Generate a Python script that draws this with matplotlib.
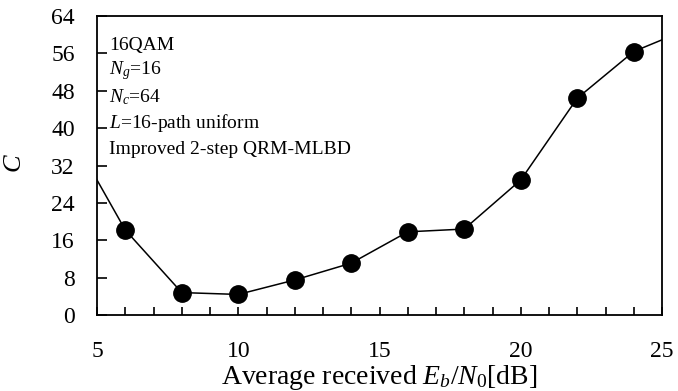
import matplotlib
matplotlib.use("Agg")
import matplotlib.pyplot as plt
from matplotlib.ticker import MultipleLocator

plt.rcParams['font.family'] = 'Liberation Serif'
plt.rcParams['mathtext.fontset'] = 'custom'
plt.rcParams['mathtext.rm'] = 'Liberation Serif'
plt.rcParams['mathtext.it'] = 'Liberation Serif:italic'

# datos (4 y 26 quedan fuera del eje, solo para el tramo de linea)
ebn0 = [4, 6, 8, 10, 12, 14, 16, 18, 20, 22, 24, 26]
c_vals = [39.6, 18.2, 4.8, 4.4, 7.5, 11.1, 17.8, 18.4, 28.9, 46.4, 56.4, 61.4]

notas = ["16QAM", r"$N_g$=16", r"$N_c$=64", r"$L$=16-path uniform",
         "Improved 2-step QRM-MLBD"]

fig = plt.figure(figsize=(6.78, 3.91), dpi=100)
ax = fig.add_axes([97/678, 1-315/391, (662-97)/678, (315-16)/391])

ax.plot(ebn0, c_vals, color='black', lw=1.1, marker='o', ms=12.5,
        markerfacecolor='black', clip_on=True)

ax.set_xlim(5, 25)
ax.set_ylim(0, 64)
ax.xaxis.set_major_locator(MultipleLocator(5))
ax.xaxis.set_minor_locator(MultipleLocator(1))
ax.yaxis.set_major_locator(MultipleLocator(8))
ax.tick_params(axis='x', which='both', direction='in', length=6, width=1.2,
               pad=19, labelsize=17)
ax.tick_params(axis='y', direction='in', length=7, width=1.2, pad=16,
               labelsize=17)
ax.tick_params(top=False, right=False)
for s in ax.spines.values():
    s.set_linewidth(1.3)

ax.set_xlabel(r"Average received $E_b$/$N_0$[dB]", fontsize=20)
ax.xaxis.label.set_va('baseline')
ax.xaxis.set_label_coords(0.499, -0.232)
ax.set_ylabel(r"$C$", fontsize=19, va='center')
ax.yaxis.set_label_coords(-0.145, 0.508)

y0 = 0.903
for i, t in enumerate(notas):
    ax.text(0.022, y0 - i*0.087, t, transform=ax.transAxes, fontsize=14,
            va='center', ha='left')

fig.savefig("out.png", dpi=100)
